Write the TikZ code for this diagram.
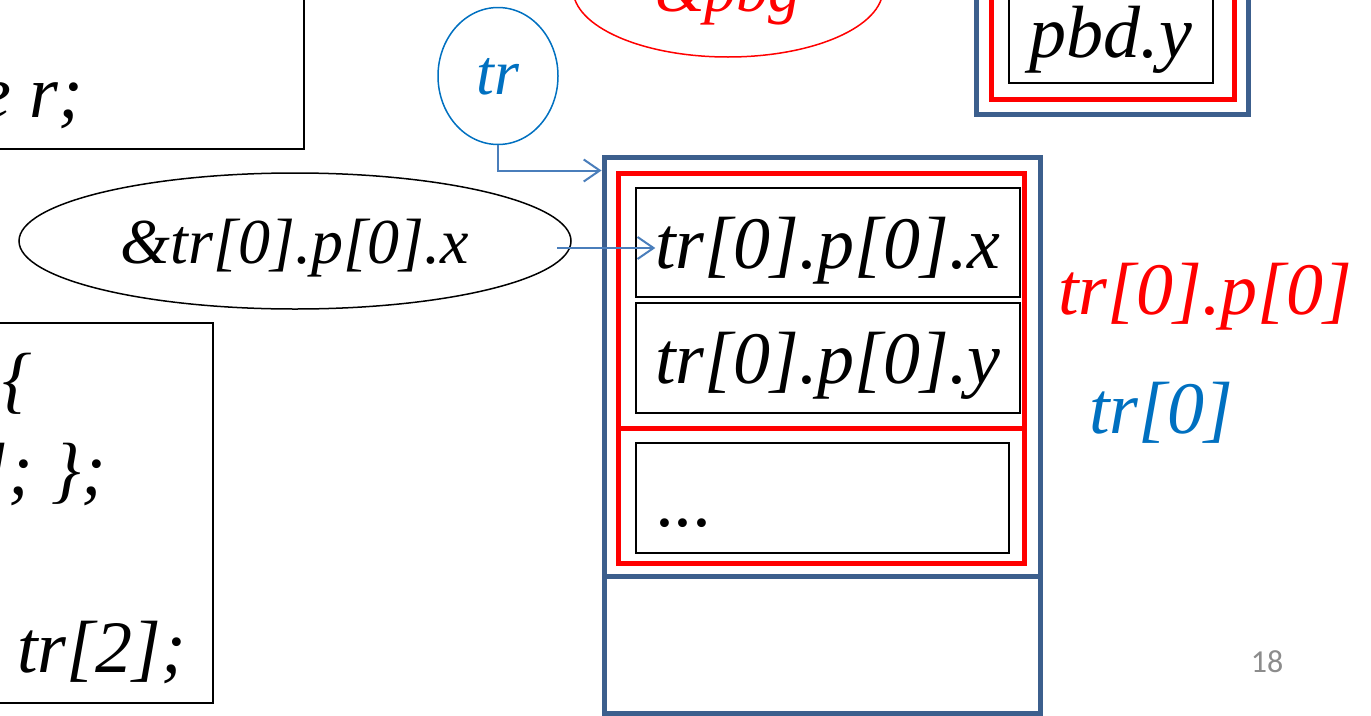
\documentclass[tikz,border=0pt]{standalone}
\usepackage{fontspec}
\setmainfont{Liberation Serif}
\newfontfamily\slidesans{Carlito}
\usetikzlibrary{arrows.meta,shapes.geometric}

\definecolor{boxblue}{HTML}{3C5F8D}
\definecolor{arrowblue}{HTML}{4A7EBB}
\definecolor{nameblue}{HTML}{0070C0}
\definecolor{slidegray}{HTML}{8C8C8C}

\newcommand{\codefont}{\fontsize{74}{88}\selectfont\itshape}
\newcommand{\addrfont}{\fontsize{64}{76}\selectfont\itshape}

\begin{document}
\begin{tikzpicture}[x=1pt,y=-1pt,
  codebox/.style={draw, line width=1.5pt},
  membox/.style={draw=boxblue, line width=5pt, inner sep=0pt},
  fieldbox/.style={draw=red, line width=5pt, inner sep=0pt},
  slotbox/.style={draw, line width=1.5pt, inner sep=0pt, text depth=0pt, font=\codefont},
  addr/.style={ellipse, draw, line width=1.5pt, inner sep=0pt, text depth=0pt, font=\addrfont},
  ptr/.style={arrowblue, line width=2pt, -{Straight Barb[length=16pt,width=22pt]}},
  codeline/.style={inner sep=0pt, anchor=base east, font=\codefont}
]
\useasboundingbox (0,0) rectangle (1371,715);

% declarations
\node[codebox, minimum width=324, minimum height=169] (decl) at (142,64.5) {};
\node[codeline] (declr) at (83,117) {e r;};

\node[codebox, minimum width=233, minimum height=380] (defs) at (96.5,513) {};
\node[codeline] (defa) at (32,404) {\{};
\node[codeline] (defb) at (106,494) {]; \};};
\node[codeline] (defc) at (186,672) {tr[2];};

% pointer tr and the address ellipses
\node[addr, draw=nameblue, text=nameblue, minimum width=120, minimum height=137] (trptr) at (498,76) {tr};
\node[addr, draw=red, text=red, minimum width=310, minimum height=136] (addrpbg) at (728,-11) {\&pbg};
\node[addr, minimum width=552, minimum height=136] (addrx) at (295,241) {\&tr[0].p[0].x};

% variable pbd
\node[membox, minimum width=272, minimum height=134] (pbd) at (1112,47) {};
\node[fieldbox, minimum width=243, minimum height=119] (pbdf) at (1112.5,39.5) {};
\node[slotbox, minimum width=204, minimum height=103] (pbdy) at (1111,31.5) {pbd.y};

% array tr
\node[membox, minimum width=436, minimum height=419] (tr0) at (822,366.5) {};
\node[membox, minimum width=436, minimum height=137] (tr1) at (822,644.5) {};
\node[fieldbox, minimum width=406, minimum height=255] (p0) at (821,300.5) {};
\node[fieldbox, minimum width=406, minimum height=135] (p1) at (821,495.5) {};
\node[slotbox, minimum width=384, minimum height=109] (p0x) at (828,242.5) {tr[0].p[0].x};
\node[slotbox, minimum width=384, minimum height=110] (p0y) at (828,358) {tr[0].p[0].y};
\node[slotbox, minimum width=373, minimum height=110] (p1s) at (822.5,498) {};
\node[codeline, anchor=base west] (p1d) at (657,526) {...};

% labels
\node[codeline, anchor=base west, text=red] (p0lbl) at (1058,314) {tr[0].p[0]};
\node[codeline, anchor=base west, text=nameblue] (tr0lbl) at (1089,433) {tr[0]};

\node[inner sep=0pt, anchor=base, text=slidegray, font=\fontsize{32}{38}\slidesans] (slnum) at (1267,672) {18};

% pointers
\draw[ptr] (trptr.south) |- (tr0.west |- p0.north);
\coordinate (xsrc) at (557,248);
\draw[ptr] (xsrc) -- (xsrc -| p0x.text);

\end{tikzpicture}
\end{document}
